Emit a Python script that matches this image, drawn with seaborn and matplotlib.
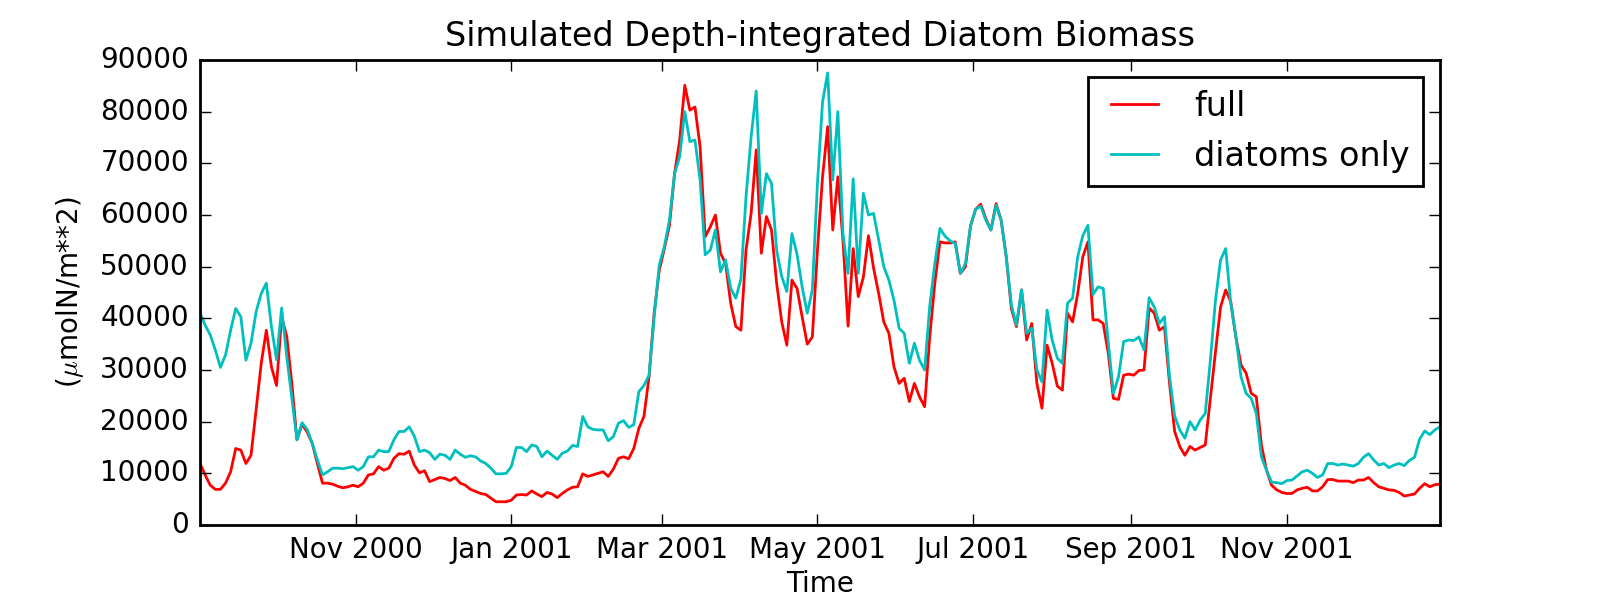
import pandas as pd
import matplotlib
matplotlib.use("Agg")
import matplotlib.pyplot as plt
import matplotlib.dates as mdates
import seaborn as sns

# 2-day samples, 1 Sep 2000 .. 31 Dec 2001
dates = pd.date_range("2000-09-01", "2001-12-31", freq="2D")

full = [
    11900, 9700, 7700, 6900, 6900, 8100, 10300, 14800, 14500, 11900,
    13500, 22300, 31300, 37700, 30600, 27000, 40300, 36500, 27400, 16500,
    19500, 18000, 15800, 11900, 8100, 8100, 7900, 7500, 7200, 7400,
    7700, 7400, 8100, 9700, 9900, 11300, 10600, 11000, 12900, 13800,
    13700, 14300, 11600, 10100, 10500, 8400, 8800, 9200, 9000, 8600,
    9200, 8100, 7700, 6900, 6500, 6100, 5900, 5200, 4500, 4500,
    4500, 4800, 5800, 5900, 5800, 6600, 6000, 5500, 6300, 6000,
    5300, 6100, 6800, 7300, 7400, 9900, 9400, 9700, 10000, 10300,
    9400, 10800, 12900, 13200, 12800, 14800, 18700, 21000, 28700, 41000,
    49300, 53500, 58000, 68000, 74500, 85100, 80300, 80900, 73200, 55800,
    57700, 60000, 52600, 50600, 42900, 38400, 37700, 53200, 60300, 72600,
    52600, 59700, 57100, 46800, 39300, 34800, 47400, 45800, 40300, 35000,
    36400, 53200, 67400, 77100, 57100, 67400, 55100, 38500, 53500, 44200,
    48000, 56000, 49700, 44800, 39300, 37100, 30600, 27400, 28400, 23900,
    27400, 24800, 22900, 36400, 46800, 54800, 54600, 54600, 54800, 48700,
    50000, 57900, 61100, 62100, 59300, 57100, 62200, 59000, 51900, 41900,
    38400, 45500, 35800, 39000, 27400, 22600, 34800, 31300, 26900, 26100,
    41000, 39300, 44800, 51900, 54800, 39700, 39700, 39000, 33200, 24500,
    24300, 29000, 29200, 29000, 29900, 30000, 42000, 41000, 37700, 38400,
    27400, 18100, 15200, 13500, 15200, 14500, 15000, 15500, 24500, 33500,
    42200, 45500, 43200, 36400, 31000, 29400, 25500, 24800, 15500, 10600,
    7700, 6800, 6300, 6100, 6100, 6800, 7100, 7300, 6600, 6600,
    7400, 8800, 8800, 8500, 8500, 8500, 8200, 8700, 8700, 9200,
    8200, 7400, 7100, 6800, 6700, 6300, 5600, 5800, 6000, 7100,
    8000, 7400, 7800, 7900,
]

diatoms_only = [
    41000, 38700, 36800, 33900, 30500, 32900, 37700, 41900, 40300, 31900,
    35200, 41300, 44800, 46800, 38400, 32000, 42000, 32600, 24500, 16500,
    19800, 18500, 15800, 12600, 9700, 10300, 11000, 11000, 10900, 11100,
    11300, 10600, 11300, 13200, 13200, 14500, 14200, 14200, 16500, 18100,
    18100, 19000, 17200, 14200, 14500, 14000, 12700, 13700, 13500, 12700,
    14500, 13700, 13100, 13400, 13200, 12400, 11900, 11000, 9900, 9900,
    10000, 11300, 15000, 15000, 14200, 15500, 15200, 13200, 14300, 13500,
    12700, 13900, 14300, 15400, 15200, 21000, 19000, 18500, 18400, 18400,
    16300, 17100, 19700, 20200, 18900, 19400, 25800, 27000, 29000, 40300,
    50300, 53900, 59000, 68000, 71300, 80000, 74200, 74500, 66800, 52300,
    53200, 57100, 49000, 51300, 45800, 43900, 47600, 63500, 75100, 84000,
    60300, 68000, 66100, 53200, 48100, 45200, 56400, 52400, 46100, 41000,
    45500, 66100, 81900, 87500, 66800, 80000, 56400, 48700, 67000, 48700,
    64200, 60000, 60300, 55100, 50000, 47400, 43500, 38100, 37100, 31300,
    35200, 31900, 30000, 42300, 50600, 57400, 55900, 55000, 54500, 48700,
    50600, 57900, 61100, 61700, 59000, 57100, 61900, 59000, 51900, 42600,
    38700, 45500, 37100, 38100, 30000, 27700, 41600, 35800, 32300, 31300,
    42900, 43900, 51900, 56000, 58000, 44600, 46100, 45800, 35200, 25500,
    28700, 35500, 35800, 35700, 36400, 33900, 44000, 42200, 39000, 40300,
    28700, 21100, 18400, 16800, 20000, 18400, 20300, 21600, 31900, 43500,
    51300, 53500, 42900, 36400, 28700, 25500, 24500, 21600, 13200, 10600,
    8300, 8200, 8000, 8600, 8700, 9500, 10300, 10600, 10000, 9200,
    9700, 11900, 11900, 11600, 11800, 11600, 11400, 11900, 13100, 13800,
    12600, 11600, 11900, 11100, 11600, 11900, 11500, 12500, 13100, 16600,
    18200, 17500, 18400, 19000,
]

tick_dates = ["2000-11-01", "2001-01-01", "2001-03-01", "2001-05-01",
              "2001-07-01", "2001-09-01", "2001-11-01"]

plt.style.use("classic")
plt.rcParams["font.size"] = 10

df = pd.DataFrame({"Time": dates, "full": full, "diatoms only": diatoms_only})

fig = plt.figure(figsize=(8, 3), dpi=200)
ax = fig.add_subplot(111)
fig.subplots_adjust(left=0.125, right=0.9, top=0.9, bottom=0.125)

sns.lineplot(data=df, x="Time", y="full", color="r", label="full", ax=ax)
sns.lineplot(data=df, x="Time", y="diatoms only", color="c", label="diatoms only", ax=ax)

ax.set_xlim(dates[0], dates[-1])
ax.set_ylim(0, 90000)
ax.set_xticks(pd.to_datetime(tick_dates))
ax.xaxis.set_major_formatter(mdates.DateFormatter("%b %Y"))

ax.set_title("Simulated Depth-integrated Diatom Biomass")
ax.set_xlabel("Time", labelpad=2)
ax.set_ylabel(r"($\mu$molN/m**2)")
ax.legend(loc="upper right")

fig.savefig("out.png", dpi=200)
